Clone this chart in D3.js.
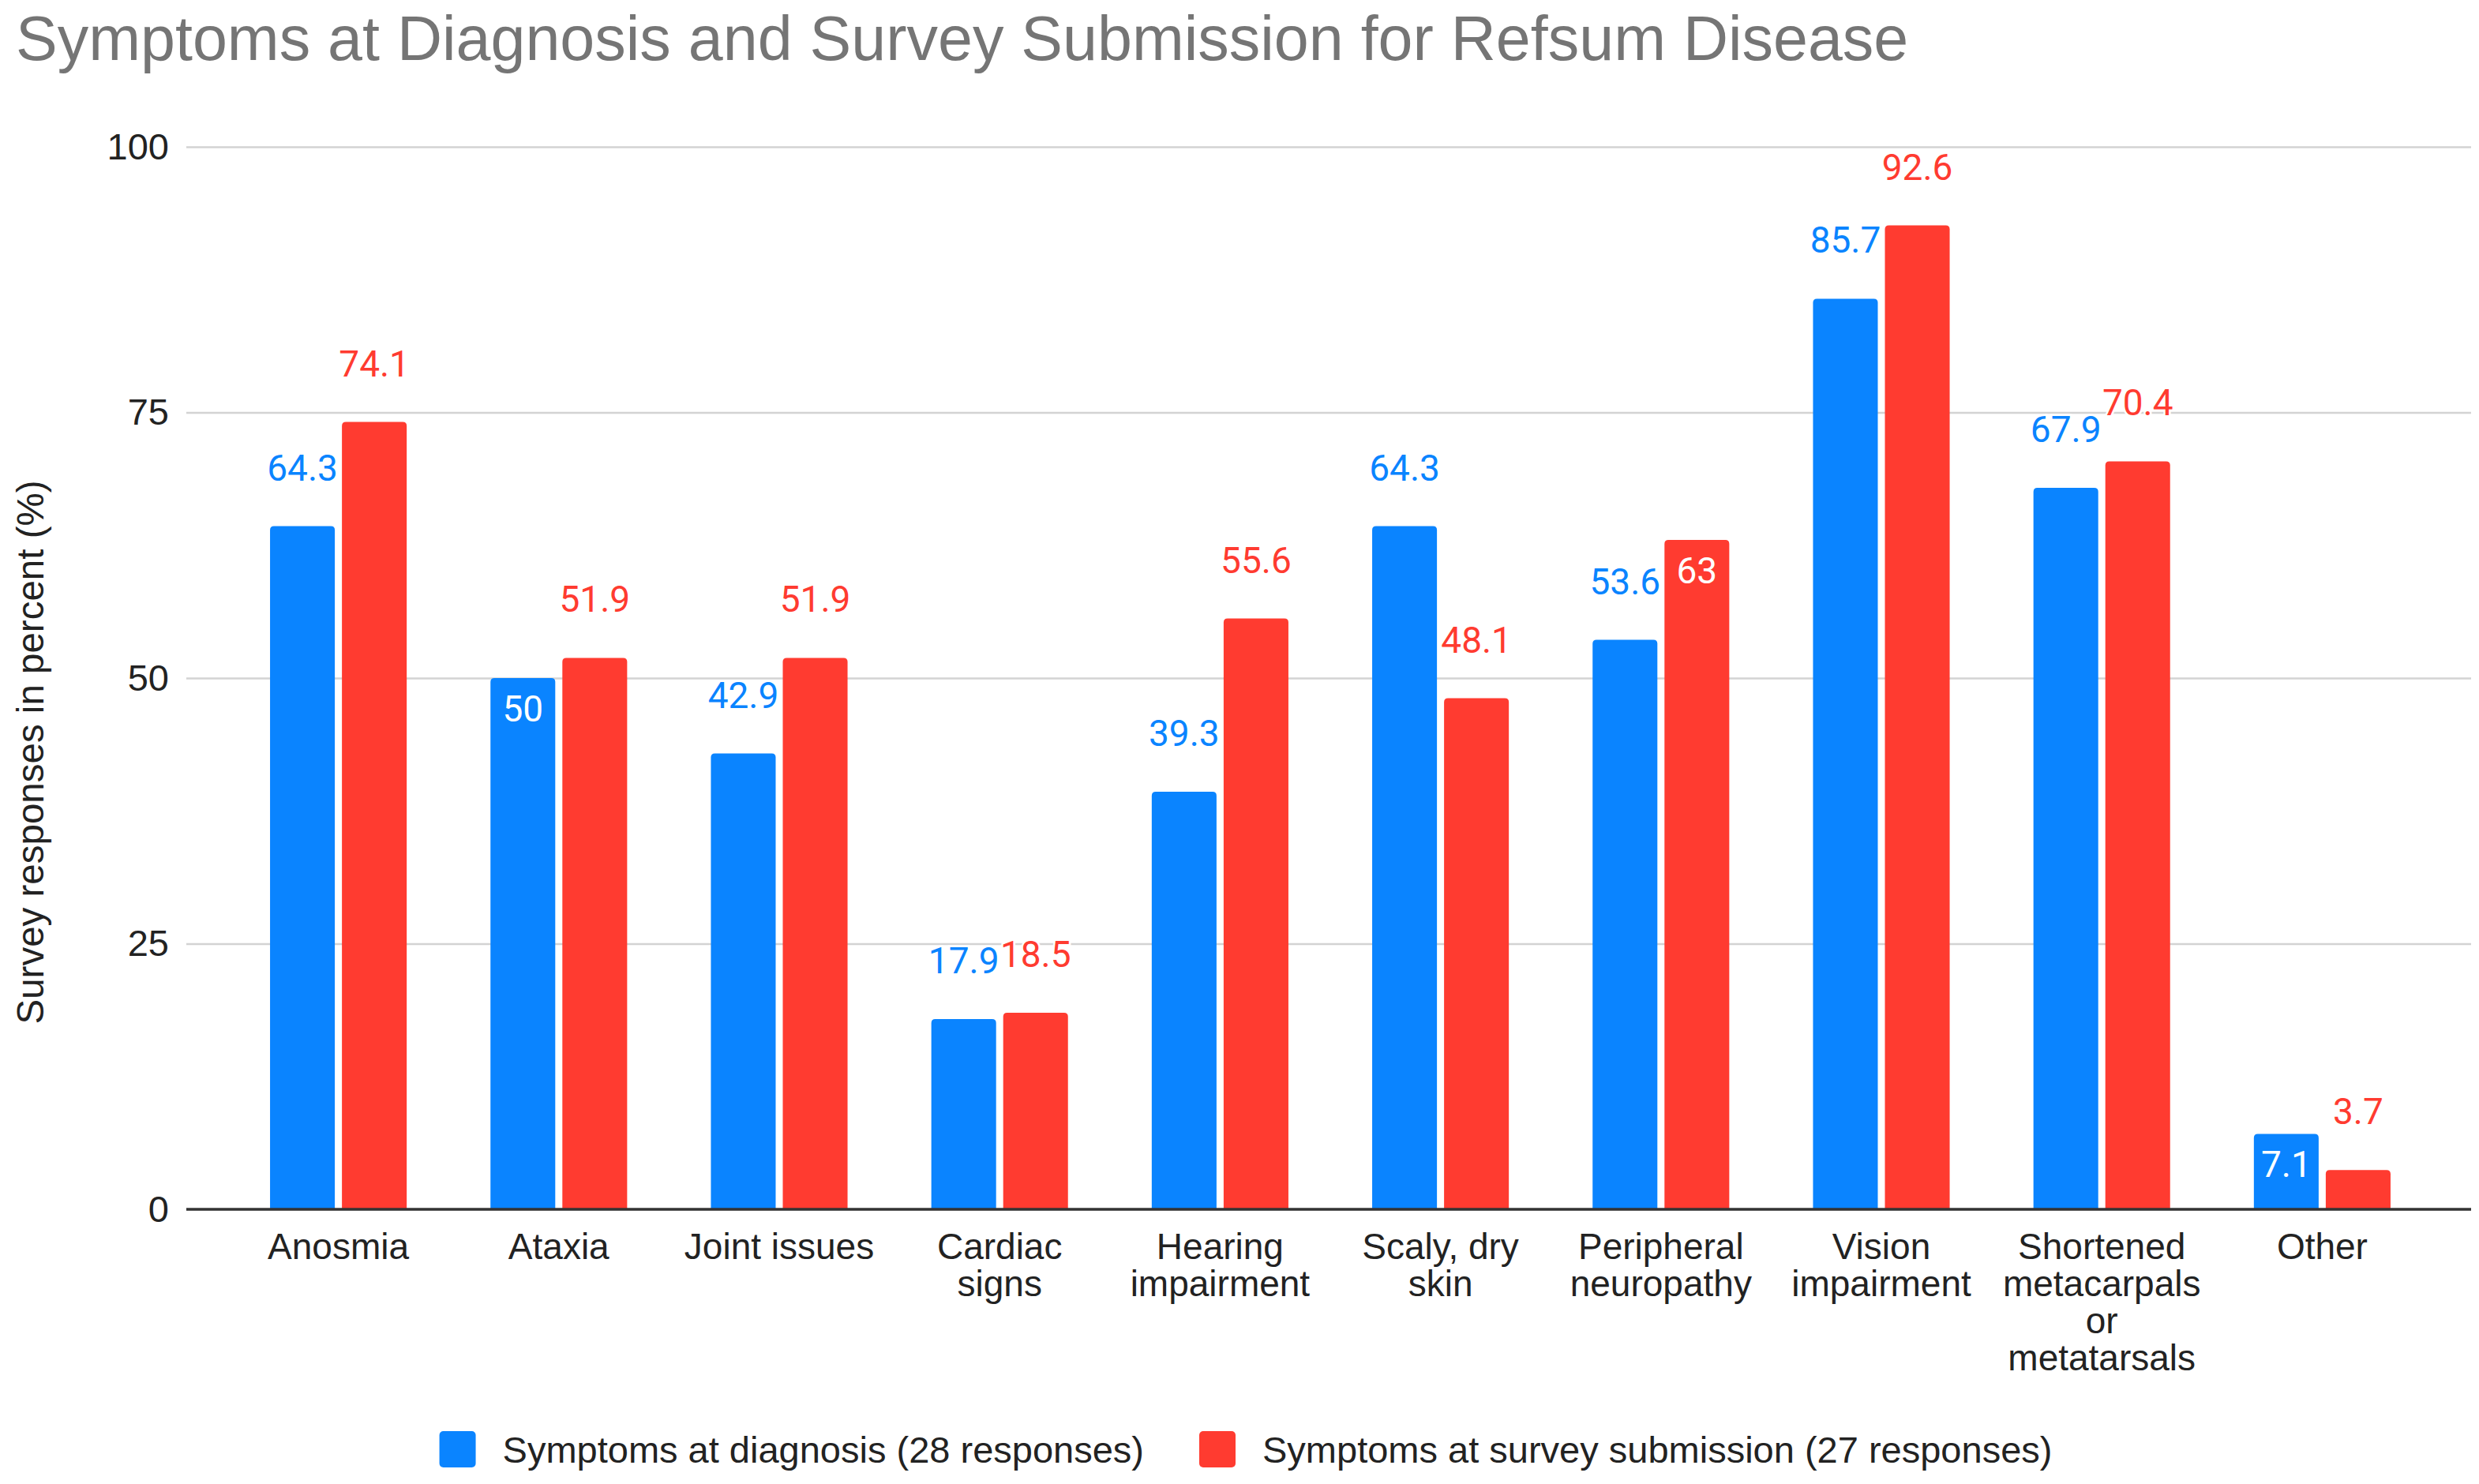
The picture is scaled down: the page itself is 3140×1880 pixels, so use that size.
<!DOCTYPE html>
<html>
<head>
<meta charset="utf-8">
<script src="https://cdn.jsdelivr.net/npm/d3@7/dist/d3.min.js"></script>
<style>
  html, body { margin: 0; padding: 0; background: #fff; }
  svg { display: block; }
</style>
</head>
<body>
<svg id="chart" width="3140" height="1880"></svg>
<script>
// ---- data ----
const categories = [
  "Anosmia", "Ataxia", "Joint issues", "Cardiac signs", "Hearing impairment",
  "Scaly, dry skin", "Peripheral neuropathy", "Vision impairment",
  "Shortened metacarpals or metatarsals", "Other"
];
const categoryLines = [
  ["Anosmia"], ["Ataxia"], ["Joint issues"], ["Cardiac", "signs"], ["Hearing", "impairment"],
  ["Scaly, dry", "skin"], ["Peripheral", "neuropathy"], ["Vision", "impairment"],
  ["Shortened", "metacarpals", "or", "metatarsals"], ["Other"]
];
const seriesNames = [
  "Symptoms at diagnosis (28 responses)",
  "Symptoms at survey submission (27 responses)"
];
const diagnosisValues = [64.3, 50, 42.9, 17.9, 39.3, 64.3, 53.6, 85.7, 67.9, 7.1];
const submissionValues = [74.1, 51.9, 51.9, 18.5, 55.6, 48.1, 63, 92.6, 70.4, 3.7];
const yTicks = [0, 25, 50, 75, 100];
// labels drawn inside the bar: [series index, category index]
const insideLabels = [[0, 1], [1, 6], [0, 9]];
const seriesColors = ["#0A84FF", "#FF3B30"];

// ---- layout ----
const W = 3140, H = 1880;
const plotLeft = 236, plotRight = 3130, plotTop = 186, plotBottom = 1532;
const sansA = "'Liberation Sans', Arial, Helvetica, sans-serif";
const sansR = "Roboto, 'Liberation Sans', Arial, sans-serif";

const svg = d3.select("#chart");

const x = d3.scaleBand().domain(categories).range([289, 3081])
  .paddingInner(0.38).paddingOuter(0.19);
const xs = d3.scaleBand().domain([0, 1]).range([0, x.bandwidth()])
  .paddingInner(9 / 91).paddingOuter(0);
const y = d3.scaleLinear().domain([0, 100]).range([plotBottom, plotTop]);

// title
svg.append("text")
  .attr("x", 20).attr("y", 76)
  .attr("font-family", sansA).attr("font-size", 79)
  .attr("fill", "#757575")
  .text("Symptoms at Diagnosis and Survey Submission for Refsum Disease");

// y axis with gridlines
const yAxis = d3.axisLeft(y).tickValues(yTicks)
  .tickSize(-(plotRight - plotLeft)).tickPadding(22).tickFormat(d3.format("d"));
const gy = svg.append("g").attr("transform", `translate(${plotLeft},0)`).call(yAxis);
gy.select(".domain").remove();
gy.selectAll(".tick line").attr("stroke", "#d3d3d3").attr("stroke-width", 2.5);
gy.selectAll(".tick text")
  .attr("font-family", sansA).attr("font-size", 47)
  .attr("fill", "#222").attr("dy", "0.32em");

// y axis title
svg.append("text")
  .attr("transform", `translate(55,953) rotate(-90)`)
  .attr("text-anchor", "middle")
  .attr("font-family", sansA).attr("font-size", 47.5)
  .attr("fill", "#222")
  .text("Survey responses in percent (%)");

// bars
const series = [diagnosisValues, submissionValues];
const r = 5;
function topRounded(x0, y0, w, h) {
  const rr = Math.min(r, h, w / 2);
  return `M${x0},${y0 + h}V${y0 + rr}Q${x0},${y0} ${x0 + rr},${y0}` +
    `H${x0 + w - rr}Q${x0 + w},${y0} ${x0 + w},${y0 + rr}V${y0 + h}Z`;
}
const barData = [];
series.forEach((vals, si) => {
  vals.forEach((v, ci) => {
    barData.push({ si, ci, v, cat: categories[ci] });
  });
});
svg.append("g").selectAll("path").data(barData).join("path")
  .attr("d", d => {
    const bx = x(d.cat) + xs(d.si);
    const by = y(d.v);
    return topRounded(bx, by, xs.bandwidth(), plotBottom - by);
  })
  .attr("fill", d => seriesColors[d.si]);

// zero line
svg.append("line")
  .attr("x1", plotLeft).attr("x2", plotRight)
  .attr("y1", y(0)).attr("y2", y(0))
  .attr("stroke", "#333").attr("stroke-width", 3.5);

// data labels
const isInside = d => insideLabels.some(p => p[0] === d.si && p[1] === d.ci);
svg.append("g").selectAll("text").data(barData).join("text")
  .attr("x", d => x(d.cat) + xs(d.si) + xs.bandwidth() / 2)
  .attr("y", d => isInside(d) ? y(d.v) + 55 : y(d.v) - 58)
  .attr("text-anchor", "middle")
  .attr("font-family", sansR).attr("font-size", 46)
  .attr("fill", d => isInside(d) ? "#fff" : seriesColors[d.si])
  .attr("stroke", d => isInside(d) ? "none" : "#fff")
  .attr("stroke-width", 5).attr("paint-order", "stroke")
  .text(d => d3.format("~g")(d.v));

// category labels
const gx = svg.append("g");
categories.forEach((c, ci) => {
  const t = gx.append("text")
    .attr("x", x(c) + x.bandwidth() / 2)
    .attr("y", 1595)
    .attr("text-anchor", "middle")
    .attr("font-family", sansA).attr("font-size", 46)
    .attr("fill", "#222");
  categoryLines[ci].forEach((ln, li) => {
    t.append("tspan").attr("x", x(c) + x.bandwidth() / 2)
      .attr("dy", li === 0 ? 0 : 47).text(ln);
  });
});

// legend
const leg = svg.append("g");
const sq = 46, gapSqText = 34, gapItems = 70, legCy = 1836;
const items = seriesNames.map((name, i) => {
  const g = leg.append("g");
  g.append("rect").attr("width", sq).attr("height", sq).attr("rx", 5)
    .attr("y", legCy - sq / 2).attr("fill", seriesColors[i]);
  const t = g.append("text").attr("x", sq + gapSqText).attr("y", legCy + 17)
    .attr("font-family", sansA).attr("font-size", 47).attr("fill", "#222").text(name);
  return { g, w: sq + gapSqText + t.node().getComputedTextLength() };
});
const total = items.reduce((a, b) => a + b.w, 0) + gapItems * (items.length - 1);
let cx = W / 2 - total / 2 + 8;
items.forEach(it => {
  it.g.attr("transform", `translate(${cx},0)`);
  cx += it.w + gapItems;
});
</script>
</body>
</html>
